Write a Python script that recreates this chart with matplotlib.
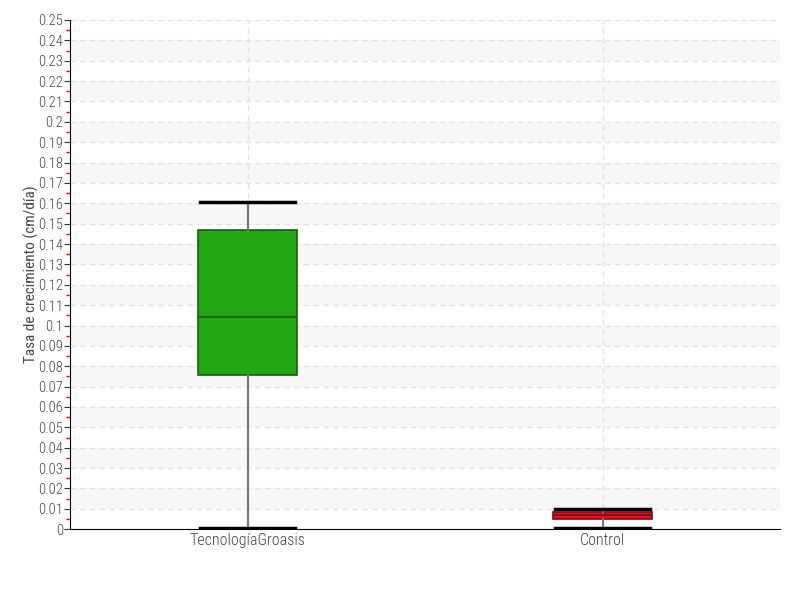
import matplotlib
matplotlib.use("Agg")
import matplotlib.pyplot as plt
from matplotlib.ticker import MultipleLocator, FormatStrFormatter
import numpy as np

plt.rcParams['font.family'] = ['Roboto Condensed', 'Liberation Sans Narrow', 'Roboto', 'DejaVu Sans']
plt.rcParams['font.weight'] = 'light'

groups = ["TecnologíaGroasis", "Control"]
whislo = [0.0005, 0.0004]
q1 = [0.0756, 0.0052]
med = [0.1041, 0.0070]
q3 = [0.1469, 0.0085]
whishi = [0.1606, 0.0098]
fills = ["#22a712", "#e8101e"]
edges = ["#1d5a14", "#7a0a10"]

fig = plt.figure(figsize=(8, 6), dpi=100)
ax = fig.add_axes([0.0875, 0.118, 0.8875, 0.8487])

# alternating bands
for y in np.arange(0.01, 0.25, 0.02):
    ax.axhspan(y, y + 0.01, color="#f7f7f7", zorder=0, lw=0)

stats = []
for i, g in enumerate(groups):
    stats.append(dict(label=g, whislo=whislo[i], q1=q1[i], med=med[i],
                      q3=q3[i], whishi=whishi[i], fliers=[]))

bp = ax.bxp(stats, positions=range(len(groups)), widths=0.28, capwidths=0.27,
            patch_artist=True, showfliers=False, zorder=3)
for i, box in enumerate(bp['boxes']):
    box.set_facecolor(fills[i])
    box.set_edgecolor(edges[i])
    box.set_linewidth(1.2)
for i, m in enumerate(bp['medians']):
    m.set_color(edges[i])
    m.set_linewidth(1.2)
for w in bp['whiskers']:
    w.set_color("#777777")
    w.set_linewidth(1.5)
for c in bp['caps']:
    c.set_color("black")
    c.set_linewidth(2.5)

ax.set_xlim(-0.5, 1.5)
ax.set_ylim(0, 0.25)
ax.yaxis.set_major_locator(MultipleLocator(0.01))
ax.yaxis.set_minor_locator(MultipleLocator(0.005))
ax.yaxis.set_major_formatter(FormatStrFormatter('%g'))
ax.tick_params(axis='y', which='minor', color='red', length=3, width=1)
ax.tick_params(axis='y', which='major', color='#333333', length=4, labelsize=10.5,
               labelcolor='#444444', pad=1)
ax.tick_params(axis='x', length=0, labelsize=11.5, labelcolor='#444444', pad=3)

ax.grid(axis='y', which='major', ls=(0, (4, 3)), color='#e2e2e2', lw=1, zorder=1)
ax.grid(axis='x', ls=(0, (4, 3)), color='#e2e2e2', lw=1, zorder=1)
ax.set_axisbelow(True)

for s in ['top', 'right']:
    ax.spines[s].set_visible(False)
ax.spines['left'].set_color('black')
ax.spines['bottom'].set_color('black')

ax.set_ylabel("Tasa de crecimiento (cm/día)", fontsize=11, color='#444444')
ax.yaxis.set_label_coords(-0.043, 0.5)

fig.savefig("out.png", dpi=100)
